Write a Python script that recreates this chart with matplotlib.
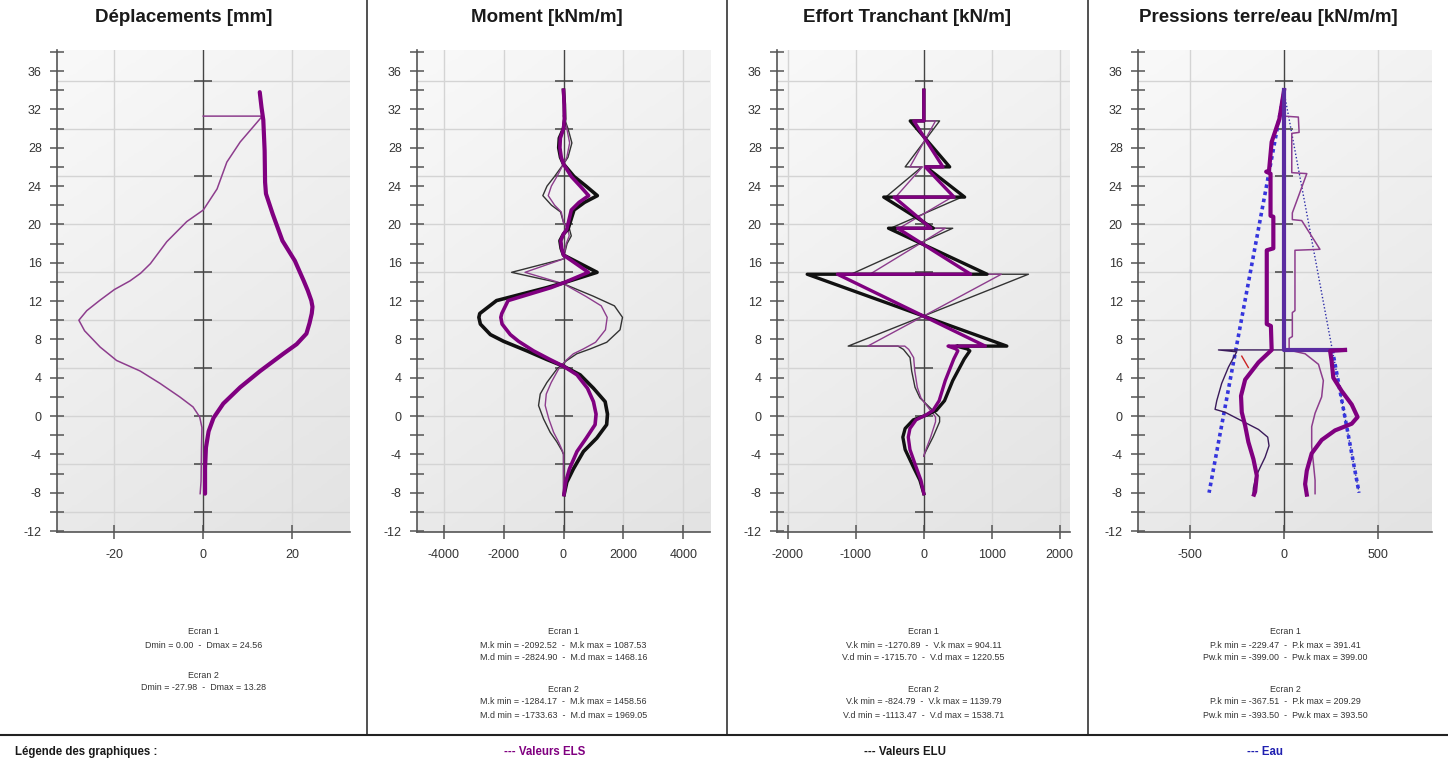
import numpy as np
import matplotlib
matplotlib.use("Agg")
from matplotlib import pyplot as plt
from matplotlib.colors import LinearSegmentedColormap

plt.rcParams['font.family'] = ['Liberation Sans', 'DejaVu Sans']
plt.rcParams['axes.unicode_minus'] = False

W, H = 1448, 764

# ---- Deplacements [mm] ----
disp_z1 = [33.8, 32.2, 30.9, 27.7, 24.4, 23.2, 21.1, 18.3, 16.2, 14.1, 13.1, 12.05, 11.4, 10.7, 9.7, 8.6,
           7.5, 6.5, 4.7, 3.0, 1.3, -0.2, -1.6, -3.3, -5.4, -8.1]
disp_e1 = [12.7, 13.1, 13.5, 13.8, 13.9, 14.1, 15.6, 17.8, 20.6, 22.6, 23.5, 24.3, 24.56, 24.4, 23.9, 23.2,
           21.0, 18.0, 12.8, 8.3, 4.5, 2.3, 1.2, 0.6, 0.4, 0.4]
disp_z2 = [31.3, 31.3, 30.6, 28.6, 26.5, 23.7, 21.5, 20.3, 18.2, 15.9, 14.9, 14.1, 13.2, 12.1, 11.0, 10.0,
           8.9, 7.2, 5.8, 4.7, 3.4, 2.0, 0.95, -0.1, -1.2, -3.3, -6.8, -8.1]
disp_e2 = [0, 13.28, 12.0, 8.3, 5.3, 3.1, 0, -3.7, -8.2, -11.9, -14.1, -16.5, -20.0, -23.2, -26.2, -27.98,
           -26.7, -23.2, -19.5, -14.2, -9.7, -5.3, -2.3, -0.8, -0.3, -0.4, -0.5, -0.7]

# ---- Moment [kNm/m] ----
mom_z1 = [34, 32.5, 31, 30, 29, 28, 27, 26.3, 25, 24, 23, 22.3, 21.5, 20.5, 19.5, 19, 18.3, 17.5, 16.8,
          16, 15, 13.9, 13.4, 12.05, 10.7, 10.3, 9.6, 8.5, 7.8, 6.8, 5.9, 5.2, 4.3, 2.9, 1.5, 0.2, -0.9,
          -2.3, -3.7, -5.5, -6.9, -8.2]
mom_d1 = [0, 30, 40, 0, -140, -160, -100, 0, 350, 750, 1130, 700, 350, 250, 150, 0, -120, -80, 0,
          500, 1120, 0, -560, -2235, -2795, -2825, -2775, -2440, -2000, -1220, -555, 0, 555, 1000, 1390,
          1468, 1440, 1110, 666, 333, 111, 20]
mom_k1 = [0, 22, 30, 0, -105, -120, -75, 0, 260, 555, 840, 520, 260, 185, 110, 0, -90, -60, 0,
          370, 830, 0, -420, -1850, -2060, -2092, -2050, -1776, -1500, -1000, -450, 0, 450, 800, 1000,
          1087, 1054, 760, 450, 200, 70, 15]
mom_z2 = [31.3, 30, 28.5, 27, 26.3, 25, 24, 23, 22, 21.3, 20.2, 19.5, 18.8, 18, 17, 16.4, 15, 13.8,
          12.5, 11.5, 10.3, 9.0, 7.7, 7.0, 6.5, 5.8, 4.9, 3.5, 2.3, 1.1, -0.3, -1.7, -2.7, -3.6, -4.0, -8.1]
mom_d2 = [0, 150, 280, 150, 0, -300, -550, -690, -400, -100, 0, 200, 260, 120, 40, 0, -1733, 0,
          1000, 1700, 1969, 1887, 1443, 888, 444, 111, -222, -555, -777, -833, -666, -444, -222, -55, 0, 0]
mom_k2 = [0, 110, 205, 110, 0, -220, -405, -510, -295, -75, 0, 150, 190, 90, 30, 0, -1284, 0,
          740, 1260, 1458, 1400, 1070, 660, 330, 80, -165, -410, -575, -611, -490, -330, -165, -40, 0, 0]

# ---- Effort tranchant [kN/m] ----
eff_z1 = [34, 31.0, 30.8, 30.8, 26.0, 26.0, 22.85, 22.85, 19.6, 19.6, 14.8, 14.8, 7.3, 7.3, 7.0, 6.8,
          5.95, 3.7, 1.6, 0.6, 0.1, -0.4, -1.3, -2.2, -3.5, -5.3, -6.7, -8.1]
eff_d1 = [0, 0, 0, -200, 380, 30, 600, -590, 140, -520, 930, -1716, 1221, 480, 640, 676,
          594, 425, 304, 184, 39, -155, -275, -309, -275, -155, -58, 0]
eff_k1 = [0, 0, 0, -148, 281, 22, 444, -437, 104, -385, 689, -1271, 904, 356, 474, 500,
          440, 315, 225, 136, 29, -115, -204, -229, -204, -115, -43, 0]
eff_z2 = [31.3, 30.8, 30.8, 26.0, 26.0, 22.85, 22.85, 19.6, 19.6, 14.8, 14.8, 7.3, 7.3, 6.95, 6.1,
          4.7, 3.0, 1.9, 0.9, -0.1, -0.6, -2.2, -3.2, -3.9, -4.2]
eff_d2 = [0, 0, 232, -275, -30, -560, 560, -490, 425, -1072, 1539, -1113, -380, -300, -203,
          -179, -130, -58, 87, 232, 232, 135, 63, 14, 0]
eff_k2 = [0, 0, 172, -204, -22, -415, 415, -363, 315, -794, 1140, -825, -280, -222, -150,
          -133, -96, -43, 64, 172, 172, 100, 47, 10, 0]

# ---- Pressions terre/eau [kN/m/m] ----
pl1_z = [34, 31, 28.6, 25.6, 25.5, 25.3, 20.9, 20.8, 17.5, 17.3, 9.6, 9.4, 6.9, 5.6, 3.8, 2.1, 0.4,
         -1.0, -2.7, -4.5, -6.2, -7.9, -8.2]
pl1 = [0, -25, -66, -80, -95, -72, -72, -57, -57, -92, -92, -70, -66, -136, -207, -229, -225,
       -207, -190, -163, -145, -154, -160]
pr1_z = [34, 6.9, 6.9, 6.8, 5.75, 4.0, 2.6, 1.2, -0.1, -0.8, -1.5, -2.5, -3.9, -5.7, -7.1, -8.2]
pr1 = [0, 0, 324, 245, 253, 262, 307, 360, 391, 360, 271, 200, 147, 121, 112, 121]
pr2_z = [31.3, 31.2, 29.6, 29.5, 25.4, 25.3, 21.2, 20.5, 20.4, 17.4, 17.3, 11.0, 10.8, 8.3, 8.1, 6.9,
         6.9, 6.5, 5.4, 3.7, 2.0, 0.3, -1.1, -3.2, -4.9, -6.7, -8.1]
pr2 = [0, 76, 80, 41, 41, 121, 44, 44, 94, 191, 58, 58, 44, 44, 27, 27,
       23, 112, 183, 209, 200, 165, 147, 147, 156, 165, 165]
pl2_z = [31.3, 6.9, 6.9, 6.7, 5.1, 3.4, 1.6, 0.7, 0.4, -0.5, -1.4, -2.2, -3.1, -4.3, -5.4, -6.4, -7.5, -8.1]
pl2 = [0, 0, -349, -252, -296, -332, -358, -367, -314, -225, -136, -87, -80, -101, -128, -151, -163, -165]
red_z = [6.25, 5.07]
red_p = [-225, -190]
water_z = [33.8, -8.0]
water_left = [0, -399]
water_right = [0, 399]
water_low_z = [6.9, -8.0]
water_low = [257, 399]

titles = ["Déplacements [mm]", "Moment [kNm/m]", "Effort Tranchant [kN/m]", "Pressions terre/eau [kN/m/m]"]
xticks = [[-20, 0, 20], [-4000, -2000, 0, 2000, 4000], [-2000, -1000, 0, 1000, 2000], [-500, 0, 500]]
xlims = [(-32.9, 33.0), (-4890, 4890), (-2160, 2150), (-777, 787)]
stats = [
    ["Ecran 1", "Dmin = 0.00  -  Dmax = 24.56", "", "Ecran 2", "Dmin = -27.98  -  Dmax = 13.28"],
    ["Ecran 1", "M.k min = -2092.52  -  M.k max = 1087.53", "M.d min = -2824.90  -  M.d max = 1468.16",
     "Ecran 2", "M.k min = -1284.17  -  M.k max = 1458.56", "M.d min = -1733.63  -  M.d max = 1969.05"],
    ["Ecran 1", "V.k min = -1270.89  -  V.k max = 904.11", "V.d min = -1715.70  -  V.d max = 1220.55",
     "Ecran 2", "V.k min = -824.79  -  V.k max = 1139.79", "V.d min = -1113.47  -  V.d max = 1538.71"],
    ["Ecran 1", "P.k min = -229.47  -  P.k max = 391.41", "Pw.k min = -399.00  -  Pw.k max = 399.00",
     "Ecran 2", "P.k min = -367.51  -  P.k max = 209.29", "Pw.k min = -393.50  -  Pw.k max = 393.50"],
]

PURPLE = '#800080'
PURPLE_THIN = '#8d3d8d'
BLACK = '#111111'
BLACK_THIN = '#333333'
BLUE = '#3535dd'


def fx(x):
    return x / W


def fy(y):
    return 1 - y / H


bg_cmap = LinearSegmentedColormap.from_list('bg', ['#f9f9f9', '#e3e3e3'])

fig = plt.figure(figsize=(W / 100, H / 100), dpi=100)
fig.patch.set_facecolor('white')

ax_left = [57, 417, 777, 1138]
ax_right = [350, 710, 1070, 1432]
panel_centers = [184, 547, 907, 1268]
ax_top, ax_bottom = 50, 532

axes = []
for i in range(4):
    ax = fig.add_axes([fx(ax_left[i]), fy(ax_bottom), fx(ax_right[i] - ax_left[i]), (ax_bottom - ax_top) / H])
    axes.append(ax)
    yy, xx = np.mgrid[0:1:100j, 0:1:100j]
    grad = (1 - yy) * 0.7 + xx * 0.3
    ax.imshow(grad, extent=[0, 1, 0, 1], transform=ax.transAxes, cmap=bg_cmap, origin='lower',
              aspect='auto', zorder=0, vmin=0, vmax=1)
    for yg in np.arange(-10, 36, 5):
        ax.axhline(yg, color='#d4d4d4', lw=1, zorder=1)
    for xg in xticks[i]:
        if xg != 0:
            ax.axvline(xg, color='#d4d4d4', lw=1, zorder=1)
    ax.axvline(0, color='#444444', lw=1, zorder=2)
    cz = np.arange(-10, 36, 5)
    ax.plot(np.zeros(len(cz)), cz, ls='none', marker='_', ms=13, mew=1.1, color='#444444', zorder=2)

    ax.set_xlim(*xlims[i])
    ax.set_ylim(-12.1, 38.2)
    ax.set_yticks(np.arange(-12, 37, 4))
    ax.set_yticks(np.arange(-10, 39, 4), minor=True)
    ax.set_xticks(xticks[i])
    ax.tick_params(axis='both', which='both', direction='inout', color='#555555', width=1.1,
                   labelsize=9, labelcolor='#333333')
    ax.tick_params(axis='y', which='both', length=10, pad=6)
    ax.tick_params(axis='x', which='both', length=10, pad=7)
    for s in ['top', 'right']:
        ax.spines[s].set_visible(False)
    for s in ['left', 'bottom']:
        ax.spines[s].set_color('#555555')
        ax.spines[s].set_linewidth(1.2)

    fig.text(fx(panel_centers[i]), fy(18), titles[i], ha='center', va='center', fontsize=13.5,
             fontweight='bold', color='#1a1a1a')
    cx = (ax_left[i] + ax_right[i]) / 2
    if i == 0:
        ys = [632, 645, None, 675, 688]
    else:
        ys = [632, 645, 658, 689, 702, 715]
    for txt, yt in zip(stats[i], ys):
        if yt is None:
            continue
        fig.text(fx(cx), fy(yt), txt, ha='center', va='center', fontsize=6.4, color='#333333')

# Deplacements
ax = axes[0]
ax.plot(disp_e2, disp_z2, color=PURPLE_THIN, lw=1.1, zorder=3)
ax.plot(disp_e1, disp_z1, color=PURPLE, lw=3.0, zorder=4, solid_capstyle='round')

# Moment
ax = axes[1]
ax.plot(mom_d2, mom_z2, color=BLACK_THIN, lw=1.0, zorder=3)
ax.plot(mom_k2, mom_z2, color=PURPLE_THIN, lw=1.0, zorder=3)
ax.plot(mom_d1, mom_z1, color=BLACK, lw=2.6, zorder=4)
ax.plot(mom_k1, mom_z1, color=PURPLE, lw=2.6, zorder=5)

# Effort tranchant
ax = axes[2]
ax.plot(eff_d2, eff_z2, color=BLACK_THIN, lw=1.0, zorder=3)
ax.plot(eff_k2, eff_z2, color=PURPLE_THIN, lw=1.0, zorder=3)
ax.plot(eff_d1, eff_z1, color=BLACK, lw=2.4, zorder=4)
ax.plot(eff_k1, eff_z1, color=PURPLE, lw=2.4, zorder=5)

# Pressions
ax = axes[3]
ax.plot(water_left, water_z, color=BLUE, lw=2.6, ls=(0, (1, 1)), zorder=3)
ax.plot(water_right, water_z, color='#2c2ca8', lw=1.0, ls=(0, (1, 1.5)), zorder=3)
ax.plot(water_low, water_low_z, color=BLUE, lw=2.6, ls=(0, (1, 1)), zorder=3)
ax.plot(pl2, pl2_z, color='#3a1a5a', lw=1.0, zorder=4)
ax.plot(pr2, pr2_z, color=PURPLE_THIN, lw=1.1, zorder=4)
ax.plot(red_p, red_z, color='#cc2222', lw=1.0, zorder=4)
ax.plot(pl1, pl1_z, color=PURPLE, lw=3.0, zorder=5)
ax.plot(pr1[:3], pr1_z[:3], color='#5a2ca0', lw=3.0, zorder=5)
ax.plot(pr1[2:], pr1_z[2:], color=PURPLE, lw=3.0, zorder=5)

# separators
for xs in [367, 727, 1088]:
    fig.add_artist(plt.Line2D([fx(xs), fx(xs)], [fy(735), 1], color='#222222', lw=1.1))
fig.add_artist(plt.Line2D([0, 1], [fy(735), fy(735)], color='#222222', lw=1.5))

fig.text(fx(15), fy(752), "Légende des graphiques :", ha='left', va='center', fontsize=8.3,
         fontweight='bold', color='#1a1a1a')
fig.text(fx(545), fy(752), "--- Valeurs ELS", ha='center', va='center', fontsize=8.3,
         fontweight='bold', color=PURPLE)
fig.text(fx(905), fy(752), "--- Valeurs ELU", ha='center', va='center', fontsize=8.3,
         fontweight='bold', color='#1a1a1a')
fig.text(fx(1265), fy(752), "--- Eau", ha='center', va='center', fontsize=8.3,
         fontweight='bold', color='#2020b0')

fig.savefig("out.png", dpi=100)
